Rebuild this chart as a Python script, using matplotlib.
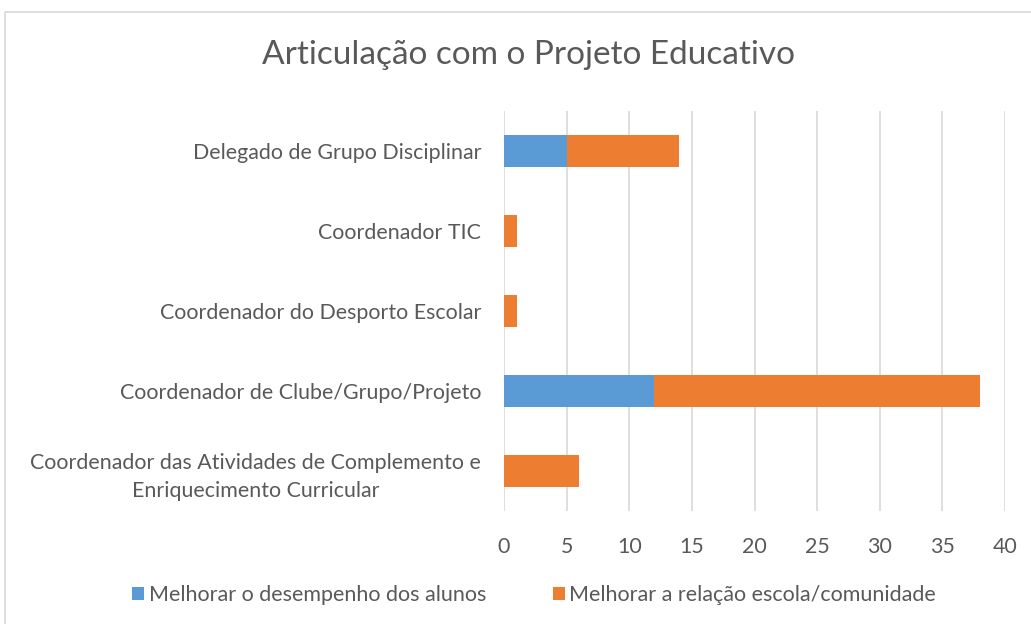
import matplotlib.pyplot as plt
from matplotlib.patches import Rectangle
import numpy as np

categories = [
    "Delegado de Grupo Disciplinar",
    "Coordenador TIC",
    "Coordenador do Desporto Escolar",
    "Coordenador de Clube/Grupo/Projeto",
    "Coordenador das Atividades de Complemento e\nEnriquecimento Curricular",
]
desempenho = [5, 0, 0, 12, 0]
comunidade = [9, 1, 1, 26, 6]
series_names = ["Melhorar o desempenho dos alunos", "Melhorar a relação escola/comunidade"]
colors = ["#5b9bd5", "#ed7d31"]
text_gray = "#595959"

plt.rcParams['font.family'] = ['Lato', 'DejaVu Sans']

fig = plt.figure(figsize=(10.31, 6.24), dpi=100)
ax = fig.add_axes([504 / 1031, 1 - 511 / 624, 501 / 1031, 400 / 624])

y = np.arange(len(categories))
ax.barh(y, desempenho, height=0.4, color=colors[0], label=series_names[0], zorder=3)
ax.barh(y, comunidade, left=desempenho, height=0.4, color=colors[1],
        label=series_names[1], zorder=3)

ax.set_ylim(len(categories) - 0.5, -0.5)
ax.set_xlim(0, 40)
ax.set_xticks(range(0, 41, 5))
ax.set_yticks(y)
ax.set_yticklabels(categories, fontsize=15.4, color=text_gray, linespacing=1.5)
ax.tick_params(axis='x', labelsize=15.4, labelcolor=text_gray, length=0, pad=19)
ax.tick_params(axis='y', length=0, pad=16.5)
for lbl in ax.get_yticklabels():
    lbl.set_horizontalalignment('right')
    lbl.set_multialignment('center')
ax.grid(axis='x', color='#d9d9d9', linewidth=1.2, zorder=0)
for s in ax.spines.values():
    s.set_visible(False)

fig.text(528 / 1031, 1 - 55 / 624, "Articulação com o Projeto Educativo",
         ha='center', va='center', fontsize=24, color=text_gray)

leg = fig.legend(loc='center', bbox_to_anchor=(534 / 1031, 1 - 595 / 624), ncol=2,
                 frameon=False, fontsize=15.5, handlelength=0.55, handleheight=0.55,
                 handletextpad=0.2, columnspacing=3.1)
for t in leg.get_texts():
    t.set_color(text_gray)

fig.patches.append(Rectangle((5 / 1031, -0.1), 1.2, 1 - 12 / 624 + 0.1,
                             transform=fig.transFigure, fill=False,
                             edgecolor='#d9d9d9', linewidth=1.2))

fig.savefig("out.png", dpi=100)
